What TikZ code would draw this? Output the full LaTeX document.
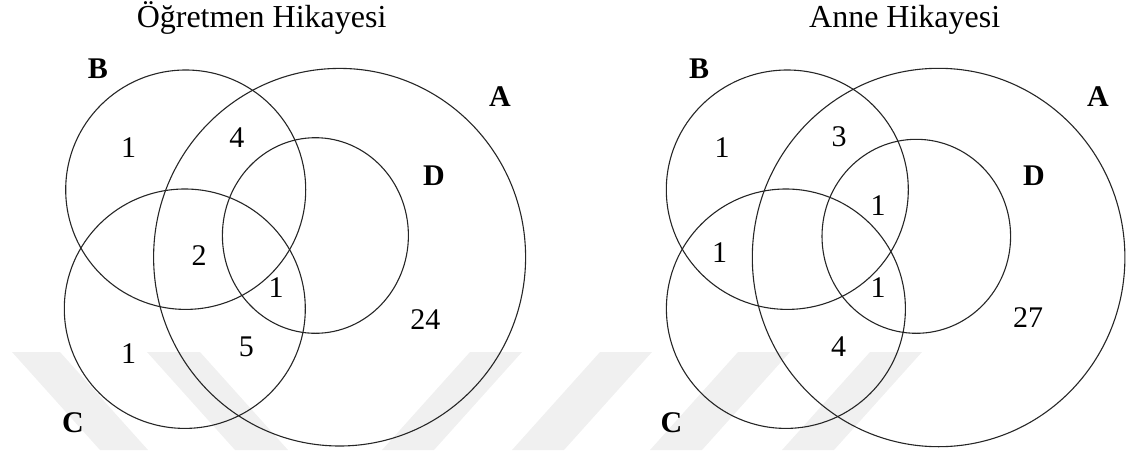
\documentclass[tikz,border=0pt]{standalone}
\usepackage{fontspec}
\setmainfont{Liberation Serif}
\begin{document}
\begin{tikzpicture}[x=1pt,y=-1pt,
  setline/.style={line width=1.1pt,draw=black!85},
  wmark/.style={fill=black!6,draw=none},
  ttl/.style={anchor=base,inner sep=0pt,font=\fontsize{32}{36}\selectfont},
  num/.style={inner sep=0pt,font=\fontsize{30}{34}\selectfont},
  lbl/.style={inner sep=0pt,font=\fontsize{30}{34}\selectfont\bfseries}]
\useasboundingbox (0,0) rectangle (1129,450);
% watermark
\fill[wmark] (12,352) -- (60,352) -- (148,450) -- (100,450) -- cycle;
\fill[wmark] (147,352) -- (200,352) -- (288,450) -- (235,450) -- cycle;
\fill[wmark] (470,352) -- (522,352) -- (434,450) -- (382,450) -- cycle;
\fill[wmark] (600,352) -- (652,352) -- (564,450) -- (512,450) -- cycle;
\fill[wmark] (738,352) -- (790,352) -- (702,450) -- (650,450) -- cycle;
\fill[wmark] (870,352) -- (922,352) -- (834,450) -- (782,450) -- cycle;
% left diagram
\node[ttl] (t1) at (261.6,27) {Öğretmen Hikayesi};
\draw[setline] (185.7,189.7) ellipse [x radius=120pt,y radius=119.7pt];
\draw[setline] (184.8,308.7) ellipse [x radius=120.5pt,y radius=119.7pt];
\draw[setline] (339.6,257.2) ellipse [x radius=186pt,y radius=188.8pt];
\draw[setline] (315.4,235.5) ellipse [x radius=93pt,y radius=97.8pt];
\node[lbl] (lB) at (98,69) {B};
\node[lbl] (lA) at (500,97) {A};
\node[lbl] (lD) at (434,175.5) {D};
\node[lbl] (lC) at (73,423) {C};
\node[num] (l1) at (128.6,148) {1};
\node[num] (l2) at (236.8,138) {4};
\node[num] (l3) at (199,256) {2};
\node[num] (l4) at (276,288) {1};
\node[num] (l5) at (425.3,319.7) {24};
\node[num] (l6) at (128.6,354) {1};
\node[num] (l7) at (246.4,347) {5};
% right diagram
\node[ttl] (t2) at (904.7,27) {Anne Hikayesi};
\draw[setline] (787.3,189.7) ellipse [x radius=121pt,y radius=119.7pt];
\draw[setline] (785.9,308.7) ellipse [x radius=119.5pt,y radius=119.7pt];
\draw[setline] (938.6,257.5) ellipse [x radius=186.3pt,y radius=189.2pt];
\draw[setline] (916.3,236.3) ellipse [x radius=94.3pt,y radius=97pt];
\node[lbl] (rB) at (699,69) {B};
\node[lbl] (rA) at (1098,97) {A};
\node[lbl] (rD) at (1034,176) {D};
\node[lbl] (rC) at (671.4,423) {C};
\node[num] (r1) at (722.2,148) {1};
\node[num] (r2) at (839,137) {3};
\node[num] (r3) at (878.2,205.5) {1};
\node[num] (r4) at (719.7,253) {1};
\node[num] (r5) at (878.2,288) {1};
\node[num] (r6) at (838.7,347) {4};
\node[num] (r7) at (1028,318) {27};
\end{tikzpicture}
\end{document}
